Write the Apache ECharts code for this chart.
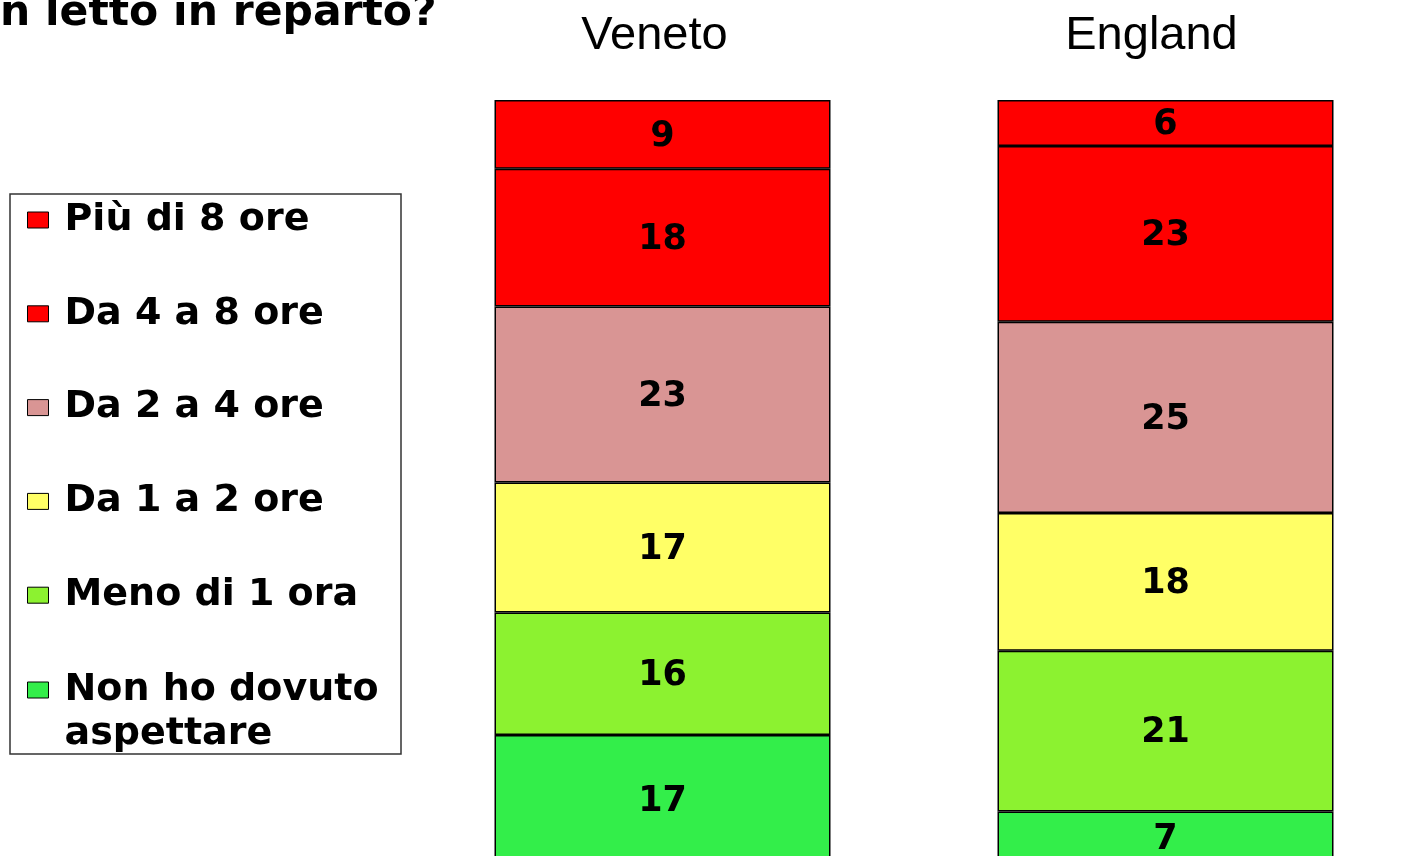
<!DOCTYPE html>
<html>
<head>
<meta charset="utf-8">
<script src="https://cdn.jsdelivr.net/npm/echarts@6/dist/echarts.min.js"></script>
<style>
html,body{margin:0;padding:0;background:#fff;}
#chart{width:1402px;height:856px;}
</style>
</head>
<body>
<div id="chart"></div>
<script>
// ---- data ----
const categories = ['Veneto', 'England'];
const seriesNames = ['Non ho dovuto aspettare', 'Meno di 1 ora', 'Da 1 a 2 ore', 'Da 2 a 4 ore', 'Da 4 a 8 ore', 'Più di 8 ore'];
const nonHoDovuto = [17, 7];
const menoDi1 = [16, 21];
const da1a2 = [17, 18];
const da2a4 = [23, 25];
const da4a8 = [18, 23];
const piuDi8 = [9, 6];
const seriesValues = [nonHoDovuto, menoDi1, da1a2, da2a4, da4a8, piuDi8];
const colors = ['#33EE4A', '#8CF230', '#FFFF66', '#D99594', '#FF0000', '#FF0000'];
const titleText = 'n letto in reparto?';

const chart = echarts.init(document.getElementById('chart'));
const boldFont = 'DejaVu Sans';

const series = seriesNames.map((name, i) => ({
  name: name,
  type: 'bar',
  stack: 'total',
  barWidth: 336,
  data: seriesValues[i],
  itemStyle: { color: colors[i], borderColor: '#000', borderWidth: 1.5 },
  label: {
    show: true, position: 'inside', color: '#000',
    fontFamily: boldFont, fontWeight: 'bold', fontSize: 35, offset: [0, 2]
  },
  emphasis: { disabled: true }
}));

const legendBase = {
  orient: 'vertical',
  left: 27,
  padding: 0,
  itemWidth: 21,
  itemHeight: 16,
  icon: 'rect',
  selectedMode: false,
  itemStyle: { borderColor: '#000', borderWidth: 1 }
};

chart.setOption({
  animation: false,
  backgroundColor: '#fff',
  grid: { left: 411, right: -15, top: 100, bottom: -9, outerBoundsMode: 'none' },
  xAxis: {
    type: 'category',
    data: categories,
    position: 'top',
    axisLine: { show: false },
    axisTick: { show: false },
    axisLabel: {
      margin: 40,
      formatter: (v, i) => '{c' + i + '|' + v + '}',
      rich: {
        c0: { fontFamily: 'Liberation Sans', fontSize: 47, color: '#000', padding: [0, 16, 0, 0] },
        c1: { fontFamily: 'Liberation Sans', fontSize: 47, color: '#000', padding: [0, 28, 0, 0] }
      }
    }
  },
  yAxis: { type: 'value', min: 0, max: 100, show: false },
  legend: [
    Object.assign({}, legendBase, {
      top: 198,
      itemGap: 49.8,
      data: seriesNames.slice(1).reverse(),
      textStyle: {
        fontFamily: boldFont, fontWeight: 'bold', fontSize: 38, color: '#000',
        lineHeight: 44, padding: [0, 0, 0, 11]
      }
    }),
    Object.assign({}, legendBase, {
      top: 627,
      data: [seriesNames[0]],
      formatter: () => '{a| }\n{a|Non ho dovuto}\n{a|aspettare}',
      textStyle: {
        fontFamily: boldFont, fontWeight: 'bold', fontSize: 38, color: '#000',
        padding: [0, 0, 0, 11],
        rich: {
          a: { fontFamily: boldFont, fontWeight: 'bold', fontSize: 38, color: '#000', lineHeight: 44 }
        }
      }
    })
  ],
  graphic: [
    {
      type: 'rect', z: -1,
      shape: { x: 10, y: 194, width: 391, height: 560 },
      style: { fill: 'none', stroke: '#333', lineWidth: 1.5 }
    },
    {
      type: 'text', x: 0, y: 14,
      style: {
        text: titleText, fill: '#000',
        font: 'bold 42.5px "DejaVu Sans"', verticalAlign: 'middle'
      }
    }
  ],
  series: series
});
</script>
</body>
</html>
